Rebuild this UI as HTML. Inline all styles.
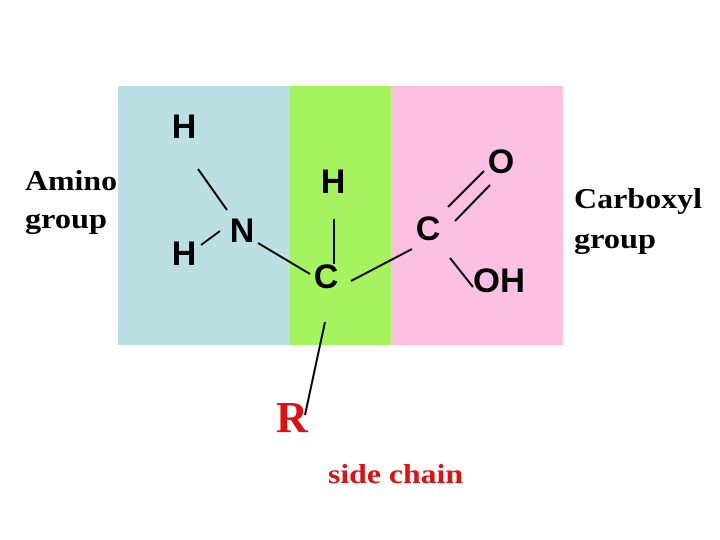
<html><body style="margin:0;width:720px;height:540px;background:#fff;overflow:hidden">
<svg width="720" height="540" xmlns="http://www.w3.org/2000/svg">
<rect x="118" y="86" width="172" height="259" fill="#bbe0e3"/>
<rect x="290" y="86" width="101" height="259" fill="#a4f35f"/>
<rect x="391" y="86" width="172" height="259" fill="#fbc0e2"/>
<g stroke="#000" stroke-width="2">
<line x1="198" y1="169" x2="227" y2="210"/>
<line x1="201" y1="245" x2="220" y2="231"/>
<line x1="258" y1="243" x2="310" y2="274"/>
<line x1="334" y1="219" x2="334" y2="264"/>
<line x1="351" y1="281" x2="412" y2="249"/>
<line x1="448" y1="207" x2="484" y2="171"/>
<line x1="455" y1="221" x2="490" y2="185"/>
<line x1="450" y1="258" x2="473" y2="287"/>
<line x1="325" y1="322" x2="305" y2="415"/>
</g>
<g font-family="Liberation Sans, sans-serif" font-weight="bold" font-size="34" text-anchor="middle">
<text x="184" y="138">H</text>
<text x="242" y="242">N</text>
<text x="184" y="265">H</text>
<text x="333" y="193">H</text>
<text x="326" y="288">C</text>
<text x="428" y="240">C</text>
<text x="501" y="173">O</text>
<text x="473" y="292" text-anchor="start" textLength="52" lengthAdjust="spacingAndGlyphs">OH</text>
</g>
<g font-family="Liberation Serif, serif" font-weight="bold" font-size="29">
<text x="25" y="190" textLength="92" lengthAdjust="spacingAndGlyphs">Amino</text>
<text x="25" y="228" textLength="82" lengthAdjust="spacingAndGlyphs">group</text>
<text x="574" y="208" textLength="128" lengthAdjust="spacingAndGlyphs">Carboxyl</text>
<text x="574" y="248" textLength="82" lengthAdjust="spacingAndGlyphs">group</text>
<text x="276" y="432" font-size="44" fill="#e01010">R</text>
<text x="328" y="483" font-size="27" fill="#e01010" textLength="135" lengthAdjust="spacingAndGlyphs">side chain</text>
</g>
</svg>
</body></html>
